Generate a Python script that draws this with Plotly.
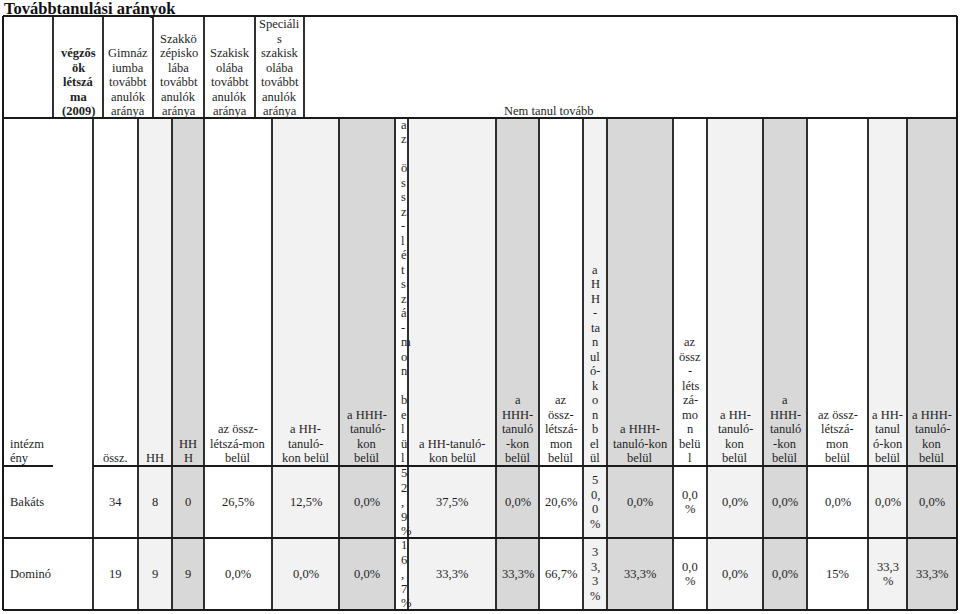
import plotly.graph_objects as go

# ---------------- data ----------------
title = "Továbbtanulási arányok"
institutions = ["Bakáts", "Dominó"]
grads_total = [34, 19]
grads_hh = [8, 9]
grads_hhh = [0, 9]
gimn_all = [26.5, 0.0]
gimn_hh = [12.5, 0.0]
gimn_hhh = [0.0, 0.0]
szkozep_all = [52.9, 16.7]
szkozep_hh = [37.5, 33.3]
szkozep_hhh = [0.0, 33.3]
szakisk_all = [20.6, 66.7]
szakisk_hh = [50.0, 33.3]
szakisk_hhh = [0.0, 33.3]
spec_all = [0.0, 0.0]
spec_hh = [0.0, 0.0]
spec_hhh = [0.0, 0.0]
nem_all = [0.0, 15]
nem_hh = [0.0, 33.3]
nem_hhh = [0.0, 33.3]

top_headers = [
    [],
    ["végzős", "ök", "létszá", "ma", "(2009)"],
    ["Gimnáz", "iumba", "továbbt", "anulók", "aránya"],
    ["Szakkö", "zépisko", "lába", "továbbt", "anulók", "aránya"],
    ["Szakisk", "olába", "továbbt", "anulók", "aránya"],
    ["Speciáli", "s", "szakisk", "olába", "továbbt", "anulók", "aránya"],
    ["Nem tanul tovább"],
]
sub_headers = [
    ["intézm", "ény"],
    ["össz."],
    ["HH"],
    ["HH", "H"],
    ["az össz-", "létszá-mon", "belül"],
    ["a HH-", "tanuló-", "kon belül"],
    ["a HHH-", "tanuló-", "kon", "belül"],
    ["a", "z", "", "ö", "s", "s", "z", "-", "l", "é", "t", "s", "z", "á", "-", "m", "o", "n", "", "b", "e", "l", "ü", "l"],
    ["a HH-tanuló-", "kon belül"],
    ["a", "HHH-", "tanuló", "-kon", "belül"],
    ["az", "össz-", "létszá-", "mon", "belül"],
    ["a", "H", "H", "-", "ta", "n", "ul", "ó-", "k", "o", "n", "b", "el", "ül"],
    ["a HHH-", "tanuló-kon", "belül"],
    ["az", "össz", "-", "léts", "zá-", "mo", "n", "belü", "l"],
    ["a HH-", "tanuló-", "kon", "belül"],
    ["a", "HHH-", "tanuló", "-kon", "belül"],
    ["az össz-", "létszá-", "mon", "belül"],
    ["a HH-", "tanul", "ó-kon", "belül"],
    ["a HHH-", "tanuló-", "kon", "belül"],
]

# ---------------- layout geometry ----------------
FONT = "Liberation Serif"
FS = 12.5
LH = 14.5
TXT = "#1e1e1e"
LINE = "#1a1a1a"
WHITE, LIGHT, DARK = "#ffffff", "#f2f2f2", "#d8d8d8"

Y_TOP, Y_H1, Y_H2, Y_R1, Y_BOT = 16, 118, 466, 538, 610
row_bounds = [(Y_H2, Y_R1), (Y_R1, Y_BOT)]

top_x = [3, 53, 103, 153, 204, 255, 304, 957]
# (x0, x1, fill, align, wrap width or None)
cols = [
    (3, 93, WHITE, "left", None),
    (93, 138, WHITE, "center", None),
    (138, 172, LIGHT, "center", None),
    (172, 204, DARK, "center", None),
    (204, 272, WHITE, "center", None),
    (272, 339, LIGHT, "center", None),
    (339, 395, DARK, "center", None),
    (395, 408, WHITE, "left", 1),
    (408, 496, LIGHT, "center", None),
    (496, 539, DARK, "center", None),
    (539, 583, WHITE, "center", None),
    (583, 607, LIGHT, "center", 12),
    (607, 673, DARK, "center", None),
    (673, 707, WHITE, "center", 22),
    (707, 763, LIGHT, "center", None),
    (763, 807, DARK, "center", None),
    (807, 868, WHITE, "center", None),
    (868, 907, LIGHT, "center", 27),
    (907, 957, DARK, "center", None),
]

counts = [grads_total, grads_hh, grads_hhh]
pcts = [gimn_all, gimn_hh, gimn_hhh, szkozep_all, szkozep_hh, szkozep_hhh,
        szakisk_all, szakisk_hh, szakisk_hhh, spec_all, spec_hh, spec_hhh,
        nem_all, nem_hh, nem_hhh]


def fmt_pct(v):
    if isinstance(v, int):
        return f"{v}%"
    return f"{v:.1f}".replace(".", ",") + "%"


CW = {",": 0.25, "%": 0.833}


def wrap(s, width):
    if width is None:
        return [s]
    lines, cur, w = [], "", 0.0
    for ch in s:
        cw = CW.get(ch, 0.5) * FS
        if cur and w + cw > width:
            lines.append(cur)
            cur, w = ch, cw
        else:
            cur += ch
            w += cw
    if cur:
        lines.append(cur)
    return lines


fig = go.Figure()
fig.add_trace(go.Scatter(x=[0, 960], y=[0, 614], mode="markers",
                         marker=dict(opacity=0), hoverinfo="skip", showlegend=False))

shapes = []
annotations = []


def rect(x0, x1, y0, y1, color):
    shapes.append(dict(type="rect", xref="x", yref="y", x0=x0, x1=x1, y0=y0, y1=y1,
                       fillcolor=color, line=dict(width=0), layer="below"))


def line(x0, y0, x1, y1, w=1.8):
    shapes.append(dict(type="line", xref="x", yref="y", x0=x0, y0=y0, x1=x1, y1=y1,
                       line=dict(color=LINE, width=w)))


def text_block(lines, x, y_center=None, y_last=None, align="center", bold=False, size=FS):
    n = len(lines)
    if y_last is not None:
        y0 = y_last - (n - 1) * LH
    else:
        y0 = y_center - (n - 1) * LH / 2
    for i, t in enumerate(lines):
        if not t:
            continue
        s = f"<b>{t}</b>" if bold else t
        annotations.append(dict(x=x, y=y0 + i * LH, xref="x", yref="y", text=s,
                                showarrow=False, xanchor=align, yanchor="middle",
                                font=dict(family=FONT, size=size, color=TXT)))


# fills
for (x0, x1, fill, _, _) in cols:
    if fill != WHITE:
        rect(x0, x1, Y_H1, Y_BOT, fill)

# borders
line(3, Y_TOP, 957, Y_TOP, 2)
line(3, Y_H1, 957, Y_H1)
line(3, Y_H2, 53, Y_H2)
line(93, Y_H2, 957, Y_H2)
line(3, Y_R1, 957, Y_R1)
line(3, Y_BOT, 957, Y_BOT, 2)
line(3, Y_TOP, 3, Y_BOT, 2)
line(957, Y_TOP, 957, Y_BOT, 2)
for x in top_x[1:-1]:
    line(x, Y_TOP, x, Y_H1)
for (x0, x1, _, _, _) in cols[1:]:
    line(x0, Y_H1, x0, Y_BOT)

# title
annotations.append(dict(x=2, y=8, xref="x", yref="y", text=f"<b>{title}</b>", showarrow=False,
                        xanchor="left", yanchor="middle",
                        font=dict(family=FONT, size=16.5, color="#111111")))

# top header row
for i, lines in enumerate(top_headers[:-1]):
    if not lines:
        continue
    xc = (top_x[i] + top_x[i + 1]) / 2
    text_block(lines, xc, y_last=111, bold=(i == 1))
text_block(top_headers[-1], 549, y_last=111)

# sub header row
for (x0, x1, _, align, _), lines in zip(cols, sub_headers):
    if align == "left":
        xa = x0 + 3.5 if x1 - x0 < 20 else x0 + 5
    else:
        xa = (x0 + x1) / 2
    text_block(lines, xa, y_last=458, align=align)

# data rows
for r, (ya, yb) in enumerate(row_bounds):
    yc = (ya + yb) / 2
    values = [institutions[r]] + [str(c[r]) for c in counts] + [fmt_pct(p[r]) for p in pcts]
    for (x0, x1, _, align, ww), val in zip(cols, values):
        lines = wrap(val, ww)
        if align == "left":
            xa = x0 + 3.5 if x1 - x0 < 20 else x0 + 5
        else:
            xa = (x0 + x1) / 2
        text_block(lines, xa, y_center=yc, align=align)

fig.update_layout(
    width=960, height=614,
    margin=dict(l=0, r=0, t=0, b=0),
    paper_bgcolor="white", plot_bgcolor="white",
    xaxis=dict(range=[0, 960], visible=False, fixedrange=True),
    yaxis=dict(range=[614, 0], visible=False, fixedrange=True),
    shapes=shapes, annotations=annotations, showlegend=False,
)

fig.write_html(
    "out.html",
    config={"displayModeBar": False},
    post_script="document.body.style.margin='0';document.body.style.overflow='hidden';",
)
